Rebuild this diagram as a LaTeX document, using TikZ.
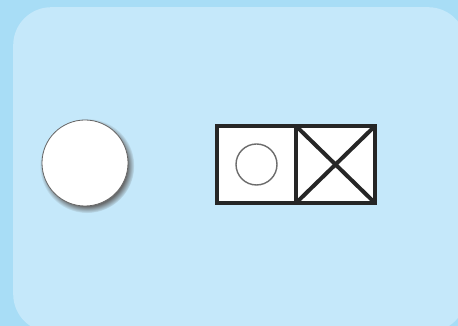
\documentclass[tikz,border=0pt]{standalone}
\usepackage{tikz}
\usetikzlibrary{
    positioning,
    shadows
}
\definecolor{outerblue}{RGB}{168,221,246}
\definecolor{innerblue}{RGB}{197,232,250}
\tikzstyle{panel} = [
    rectangle,
    rounded corners=38pt,
    fill=innerblue,
    draw=none
]
\tikzstyle{disc} = [
    circle,
    draw=gray!80!black,
    line width=0.8pt,
    fill=white,
    inner sep=0pt,
    circular drop shadow={shadow xshift=1.8pt, shadow yshift=-2.5pt, fill=gray!75!black, opacity=0.9}
]
\tikzstyle{cell} = [
    rectangle,
    draw=black!85,
    line width=4pt,
    fill=white,
    minimum width=79pt,
    minimum height=77pt,
    inner sep=0pt,
    outer sep=0pt
]
\tikzstyle{ring} = [
    circle,
    draw=gray!85!black,
    line width=1.4pt,
    fill=white,
    inner sep=0pt,
    minimum size=41pt
]

\begin{document}
\begin{tikzpicture}[x=1pt, y=1pt]
        % Background
        \clip (0,0) rectangle (458,326);
        \fill[outerblue] (0,0) rectangle (458,326);
        \node[panel, minimum width=453pt, minimum height=325pt, anchor=north west] (board) at (13,319) {};

        % Big disc
        \node[disc, minimum size=86pt] (bigdisc) at (85,163) {};

        % Box with two cells
        \node[cell] (leftcell) at (256.5,161.5) {};
        \node[cell, right=0pt of leftcell] (rightcell) {};
        \node[ring] (smallring) at (leftcell.center) {};

        % Cross
        \draw[line width=4pt, draw=black!85] (rightcell.north west) -- (rightcell.south east);
        \draw[line width=4pt, draw=black!85] (rightcell.north east) -- (rightcell.south west);
        \draw[line width=4pt, draw=black!85] (rightcell.north west) rectangle (rightcell.south east);
    \end{tikzpicture}
\end{document}
